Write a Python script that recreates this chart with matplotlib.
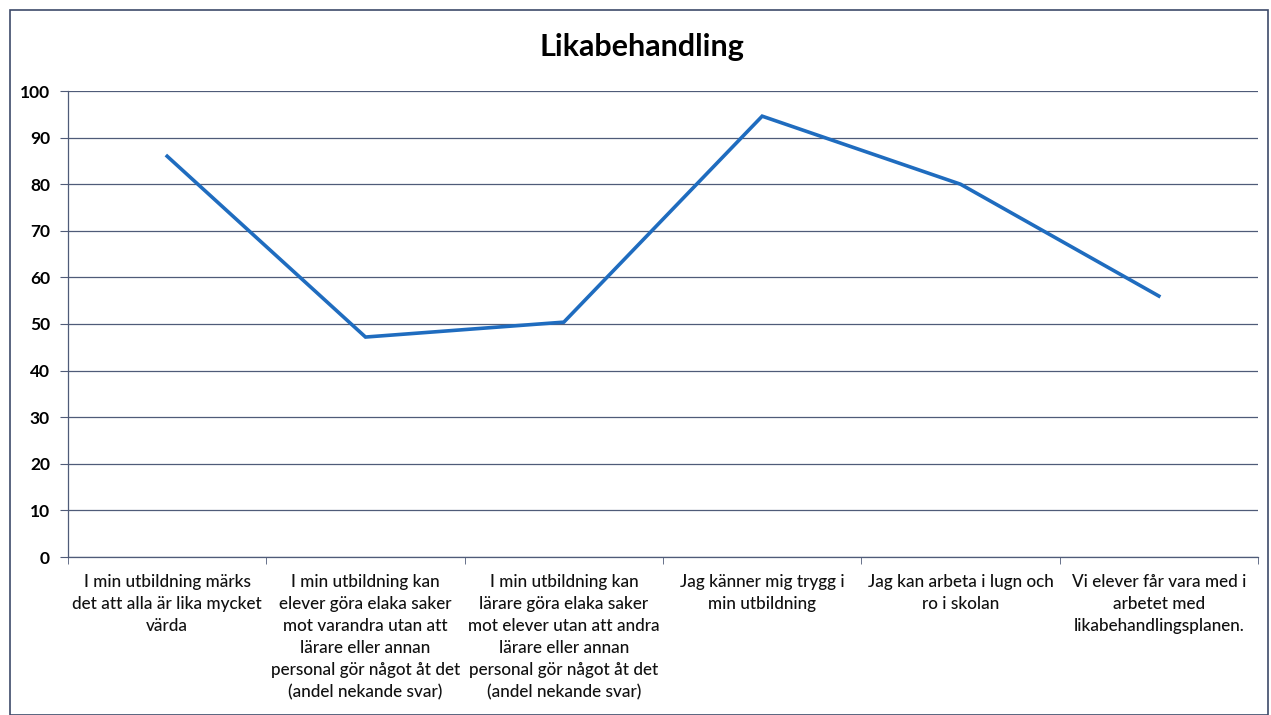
import matplotlib
matplotlib.use('Agg')
import matplotlib.pyplot as plt
from matplotlib.patches import Rectangle

plt.rcParams['font.family'] = ['Lato', 'DejaVu Sans']

# Data
kategorier = [
    "I min utbildning märks\ndet att alla är lika mycket\nvärda",
    "I min utbildning kan\nelever göra elaka saker\nmot varandra utan att\nlärare eller annan\npersonal gör något åt det\n(andel nekande svar)",
    "I min utbildning kan\nlärare göra elaka saker\nmot elever utan att andra\nlärare eller annan\npersonal gör något åt det\n(andel nekande svar)",
    "Jag känner mig trygg i\nmin utbildning",
    "Jag kan arbeta i lugn och\nro i skolan",
    "Vi elever får vara med i\narbetet med\nlikabehandlingsplanen.",
]
andel = [86.0, 47.2, 50.4, 94.6, 80.0, 56.0]
y_ticks = list(range(0, 101, 10))

W, H = 1271, 715
fig = plt.figure(figsize=(W / 100, H / 100), dpi=100)

grid_col = '#4f5b78'
line_col = '#1f6cbf'

# ram runt diagrammet
fig.patches.append(Rectangle((10 / W, 0), (1268 - 10) / W, (H - 10) / H,
                             transform=fig.transFigure, fill=False,
                             edgecolor='#3d4a6a', linewidth=1.2))

ax = fig.add_axes([68 / W, (H - 557) / H, (1258 - 68) / W, (557 - 91) / H])

x = list(range(len(andel)))
ax.plot(x, andel, color=line_col, linewidth=2.6, solid_joinstyle='miter')

ax.set_xlim(-0.5, len(andel) - 0.5)
ax.set_ylim(0, 100)
ax.set_yticks(y_ticks)
ax.set_yticklabels([str(v) for v in y_ticks], fontsize=12.5, fontweight='bold')
ax.yaxis.grid(True, color=grid_col, linewidth=0.9)
ax.set_axisbelow(True)

# kategorier centrerade, tickstreck mellan kategorierna
ax.set_xticks(x)
ax.set_xticklabels(kategorier, fontsize=12.3, fontweight='medium', linespacing=1.47,
                   va='top', color='#111111')
ax.tick_params(axis='x', length=0, pad=12)
ax.set_xticks([i - 0.5 for i in range(len(andel) + 1)], minor=True)
ax.tick_params(axis='x', which='minor', length=5, color=grid_col, direction='out')
ax.tick_params(axis='y', length=6, color=grid_col, pad=7)

for side in ['top', 'right']:
    ax.spines[side].set_visible(False)
for side in ['left', 'bottom']:
    ax.spines[side].set_color(grid_col)
    ax.spines[side].set_linewidth(0.9)

fig.text(642 / W, (H - 47) / H, 'Likabehandling',
         ha='center', va='center', fontsize=22, fontweight='bold')

fig.savefig('out.png', dpi=100)
